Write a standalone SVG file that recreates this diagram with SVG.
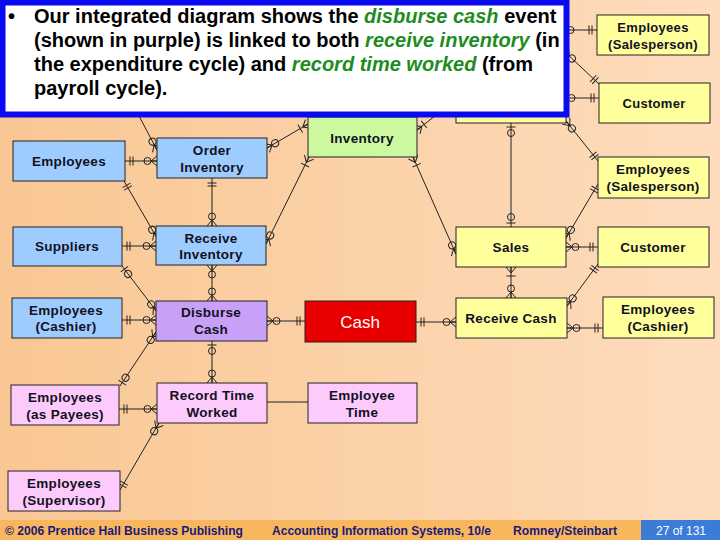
<svg xmlns="http://www.w3.org/2000/svg" width="720" height="540" viewBox="0 0 720 540">
<defs>
<linearGradient id="bg" x1="0" y1="0" x2="1" y2="0">
<stop offset="0" stop-color="#F9C793"/>
<stop offset="1" stop-color="#FEDCBD"/>
</linearGradient>
<marker id="zm" markerUnits="userSpaceOnUse" markerWidth="30" markerHeight="30" refX="0" refY="0" orient="auto-start-reverse" overflow="visible">
<path d="M-6,0 L0,-5 M-6,0 L0,5 M-6,0 L0,0" fill="none" stroke="#222" stroke-width="1"/>
<circle cx="-9.5" cy="0" r="3.5" fill="none" stroke="#222" stroke-width="1"/>
</marker>
<marker id="one" markerUnits="userSpaceOnUse" markerWidth="30" markerHeight="30" refX="0" refY="0" orient="auto-start-reverse" overflow="visible">
<path d="M-5,-4.5 L-5,4.5 M-8,-4.5 L-8,4.5" fill="none" stroke="#222" stroke-width="1"/>
</marker>
<marker id="zo" markerUnits="userSpaceOnUse" markerWidth="30" markerHeight="30" refX="0" refY="0" orient="auto-start-reverse" overflow="visible">
<path d="M-4,-4.5 L-4,4.5" fill="none" stroke="#222" stroke-width="1"/>
<circle cx="-10" cy="0" r="3.5" fill="none" stroke="#222" stroke-width="1"/>
</marker>
<marker id="om" markerUnits="userSpaceOnUse" markerWidth="30" markerHeight="30" refX="0" refY="0" orient="auto-start-reverse" overflow="visible">
<path d="M-6,0 L0,-5 M-6,0 L0,5 M-6,0 L0,0 M-9,-4.5 L-9,4.5" fill="none" stroke="#222" stroke-width="1"/>
</marker>
</defs>
<style>
.n{stroke:#222;stroke-width:1}
.blue{fill:#9FCCFF}
.purple{fill:#C9A0F8}
.pink{fill:#FCCBFC}
.green{fill:#CCF9A0}
.yellow{fill:#FFFF9C}
.red{fill:#E80000}
.t{font-family:"Liberation Sans",Arial,sans-serif;font-size:13.5px;font-weight:bold;fill:#111122;text-anchor:middle;letter-spacing:0.3px}
.ts{font-size:13px}
.c{fill:none;stroke:#222;stroke-width:1}
.hd{font-family:"Liberation Sans",Arial,sans-serif;font-size:20px;font-weight:bold;fill:#000}
.g{fill:#1E8C1E;font-style:italic}
.ft{font-family:"Liberation Sans Narrow","Liberation Sans",Arial,sans-serif;font-size:13px;font-weight:bold;fill:#1A1A7A}
</style>
<rect x="0" y="0" width="720" height="540" fill="url(#bg)"/>

<g id="connectors">
<path class="c" d="M125,161 L157,161" marker-start="url(#one)" marker-end="url(#zm)"/>
<path class="c" d="M138,114 L157,150" marker-end="url(#zm)"/>
<path class="c" d="M267,148 L308,124" marker-start="url(#zm)" marker-end="url(#om)"/>
<path class="c" d="M212,178 L212,226" marker-start="url(#one)" marker-end="url(#zm)"/>
<path class="c" d="M124,181 L157,238" marker-start="url(#one)" marker-end="url(#zm)"/>
<path class="c" d="M122,246 L156,246" marker-start="url(#one)" marker-end="url(#zm)"/>
<path class="c" d="M266,244 L309,157" marker-start="url(#zm)" marker-end="url(#om)"/>
<path class="c" d="M122,266 L157,312" marker-start="url(#zo)" marker-end="url(#zm)"/>
<path class="c" d="M212,265 L212,301" marker-start="url(#zm)" marker-end="url(#zm)"/>
<path class="c" d="M122,320 L156,320" marker-start="url(#one)" marker-end="url(#zm)"/>
<path class="c" d="M156,332 L120,386" marker-start="url(#zm)" marker-end="url(#zo)"/>
<path class="c" d="M267,321 L305,321" marker-start="url(#zm)" marker-end="url(#one)"/>
<path class="c" d="M212,341 L212,383" marker-start="url(#zo)" marker-end="url(#zm)"/>
<path class="c" d="M119,409 L157,409" marker-start="url(#one)" marker-end="url(#zm)"/>
<path class="c" d="M267,402 L308,402"/>
<path class="c" d="M159,423 L120,490" marker-start="url(#zm)" marker-end="url(#one)"/>
<path class="c" d="M417,130 L440,112" marker-start="url(#om)"/>
<path class="c" d="M413,157 L456,254" marker-start="url(#om)" marker-end="url(#zm)"/>
<path class="c" d="M511,123 L511,227" marker-start="url(#zo)" marker-end="url(#zo)"/>
<path class="c" d="M561,30 L597,30" marker-start="url(#zm)" marker-end="url(#one)"/>
<path class="c" d="M565,52 L599,84" marker-start="url(#zm)" marker-end="url(#one)"/>
<path class="c" d="M562,98 L599,98" marker-start="url(#zm)" marker-end="url(#one)"/>
<path class="c" d="M566,121 L598,161" marker-start="url(#zm)" marker-end="url(#one)"/>
<path class="c" d="M566,238 L598,184" marker-start="url(#zm)" marker-end="url(#one)"/>
<path class="c" d="M566,247 L598,247" marker-start="url(#zm)" marker-end="url(#one)"/>
<path class="c" d="M511,267 L511,298" marker-start="url(#om)" marker-end="url(#zm)"/>
<path class="c" d="M567,306 L598,264" marker-start="url(#zm)" marker-end="url(#one)"/>
<path class="c" d="M567,328 L603,328" marker-start="url(#zm)" marker-end="url(#one)"/>
<path class="c" d="M416,322 L456,322" marker-start="url(#one)" marker-end="url(#zm)"/>
</g>

<g id="employees"><rect class="n blue" x="13" y="141" width="112" height="40"/><text class="t" x="69" y="166">Employees</text></g>
<g id="order-inventory"><rect class="n blue" x="157" y="138" width="110" height="40"/><text class="t" x="212" y="155">Order</text><text class="t" x="212" y="172">Inventory</text></g>
<g id="suppliers"><rect class="n blue" x="13" y="227" width="109" height="39"/><text class="t" x="67" y="251">Suppliers</text></g>
<g id="receive-inventory"><rect class="n blue" x="156" y="226" width="110" height="39"/><text class="t" x="211" y="243">Receive</text><text class="t" x="211" y="259">Inventory</text></g>
<g id="employees-cashier-left"><rect class="n blue" x="12" y="298" width="110" height="40"/><text class="t" x="66" y="315">Employees</text><text class="t" x="66" y="331">(Cashier)</text></g>
<g id="disburse-cash"><rect class="n purple" x="156" y="301" width="111" height="40"/><text class="t" x="211" y="317">Disburse</text><text class="t" x="211" y="334">Cash</text></g>
<g id="employees-payees"><rect class="n pink" x="11" y="385" width="108" height="40"/><text class="t" x="65" y="402">Employees</text><text class="t" x="65" y="419">(as Payees)</text></g>
<g id="record-time-worked"><rect class="n pink" x="157" y="383" width="110" height="40"/><text class="t" x="212" y="400">Record Time</text><text class="t" x="212" y="417">Worked</text></g>
<g id="employees-supervisor"><rect class="n pink" x="8" y="471" width="112" height="40"/><text class="t" x="64" y="488">Employees</text><text class="t" x="64" y="505">(Supervisor)</text></g>
<g id="inventory"><rect class="n green" x="308" y="117" width="109" height="40"/><text class="t" x="362" y="143">Inventory</text></g>
<g id="cash"><rect class="n red" x="305" y="301" width="111" height="41"/><text x="360" y="327.5" style="font-family:'Liberation Sans',Arial,sans-serif;font-size:17px;fill:#fff;text-anchor:middle">Cash</text></g>
<g id="employee-time"><rect class="n pink" x="308" y="383" width="109" height="40"/><text class="t" x="362" y="400">Employee</text><text class="t" x="362" y="417">Time</text></g>
<g id="hidden-event"><rect class="n yellow" x="456" y="83" width="110" height="40"/></g>
<g id="sales"><rect class="n yellow" x="456" y="227" width="110" height="40"/><text class="t" x="511" y="252">Sales</text></g>
<g id="receive-cash"><rect class="n yellow" x="456" y="298" width="111" height="40"/><text class="t" x="511" y="323">Receive Cash</text></g>
<g id="employees-salesperson-top"><rect class="n yellow" x="597" y="15" width="112" height="40"/><text class="t ts" x="653" y="32">Employees</text><text class="t ts" x="653" y="49">(Salesperson)</text></g>
<g id="customer-top"><rect class="n yellow" x="599" y="83" width="111" height="40"/><text class="t ts" x="654" y="108">Customer</text></g>
<g id="employees-salesperson-mid"><rect class="n yellow" x="598" y="157" width="111" height="41"/><text class="t" x="653" y="174">Employees</text><text class="t" x="653" y="191">(Salesperson)</text></g>
<g id="customer-mid"><rect class="n yellow" x="598" y="227" width="111" height="40"/><text class="t" x="653" y="252">Customer</text></g>
<g id="employees-cashier-right"><rect class="n yellow" x="603" y="297" width="111" height="41"/><text class="t" x="658" y="314">Employees</text><text class="t" x="658" y="331">(Cashier)</text></g>

<g id="callout">
<rect x="2.5" y="2.5" width="564" height="112" fill="#fff" stroke="#0A0AF0" stroke-width="6"/>
<text class="hd" x="8" y="23">•</text>
<text class="hd" x="34" y="23">Our integrated diagram shows the <tspan class="g">disburse cash</tspan> event</text>
<text class="hd" x="34" y="47">(shown in purple) is linked to both <tspan class="g">receive inventory</tspan> (in</text>
<text class="hd" x="34" y="71">the expenditure cycle) and <tspan class="g">record time worked</tspan> (from</text>
<text class="hd" x="34" y="95">payroll cycle).</text>
</g>

<g id="footer">
<rect x="0" y="520" width="641" height="20" fill="#F8B65D"/>
<rect x="641" y="520" width="79" height="20" fill="#3A7CD6"/>
<text class="ft" x="5" y="535" textLength="238" lengthAdjust="spacingAndGlyphs">© 2006 Prentice Hall Business Publishing</text>
<text class="ft" x="272" y="535" textLength="219" lengthAdjust="spacingAndGlyphs">Accounting Information Systems, 10/e</text>
<text class="ft" x="513" y="535" textLength="104" lengthAdjust="spacingAndGlyphs">Romney/Steinbart</text>
<text class="ft" x="656" y="535" textLength="50" lengthAdjust="spacingAndGlyphs" style="fill:#fff;font-weight:normal">27 of 131</text>
</g>
</svg>
